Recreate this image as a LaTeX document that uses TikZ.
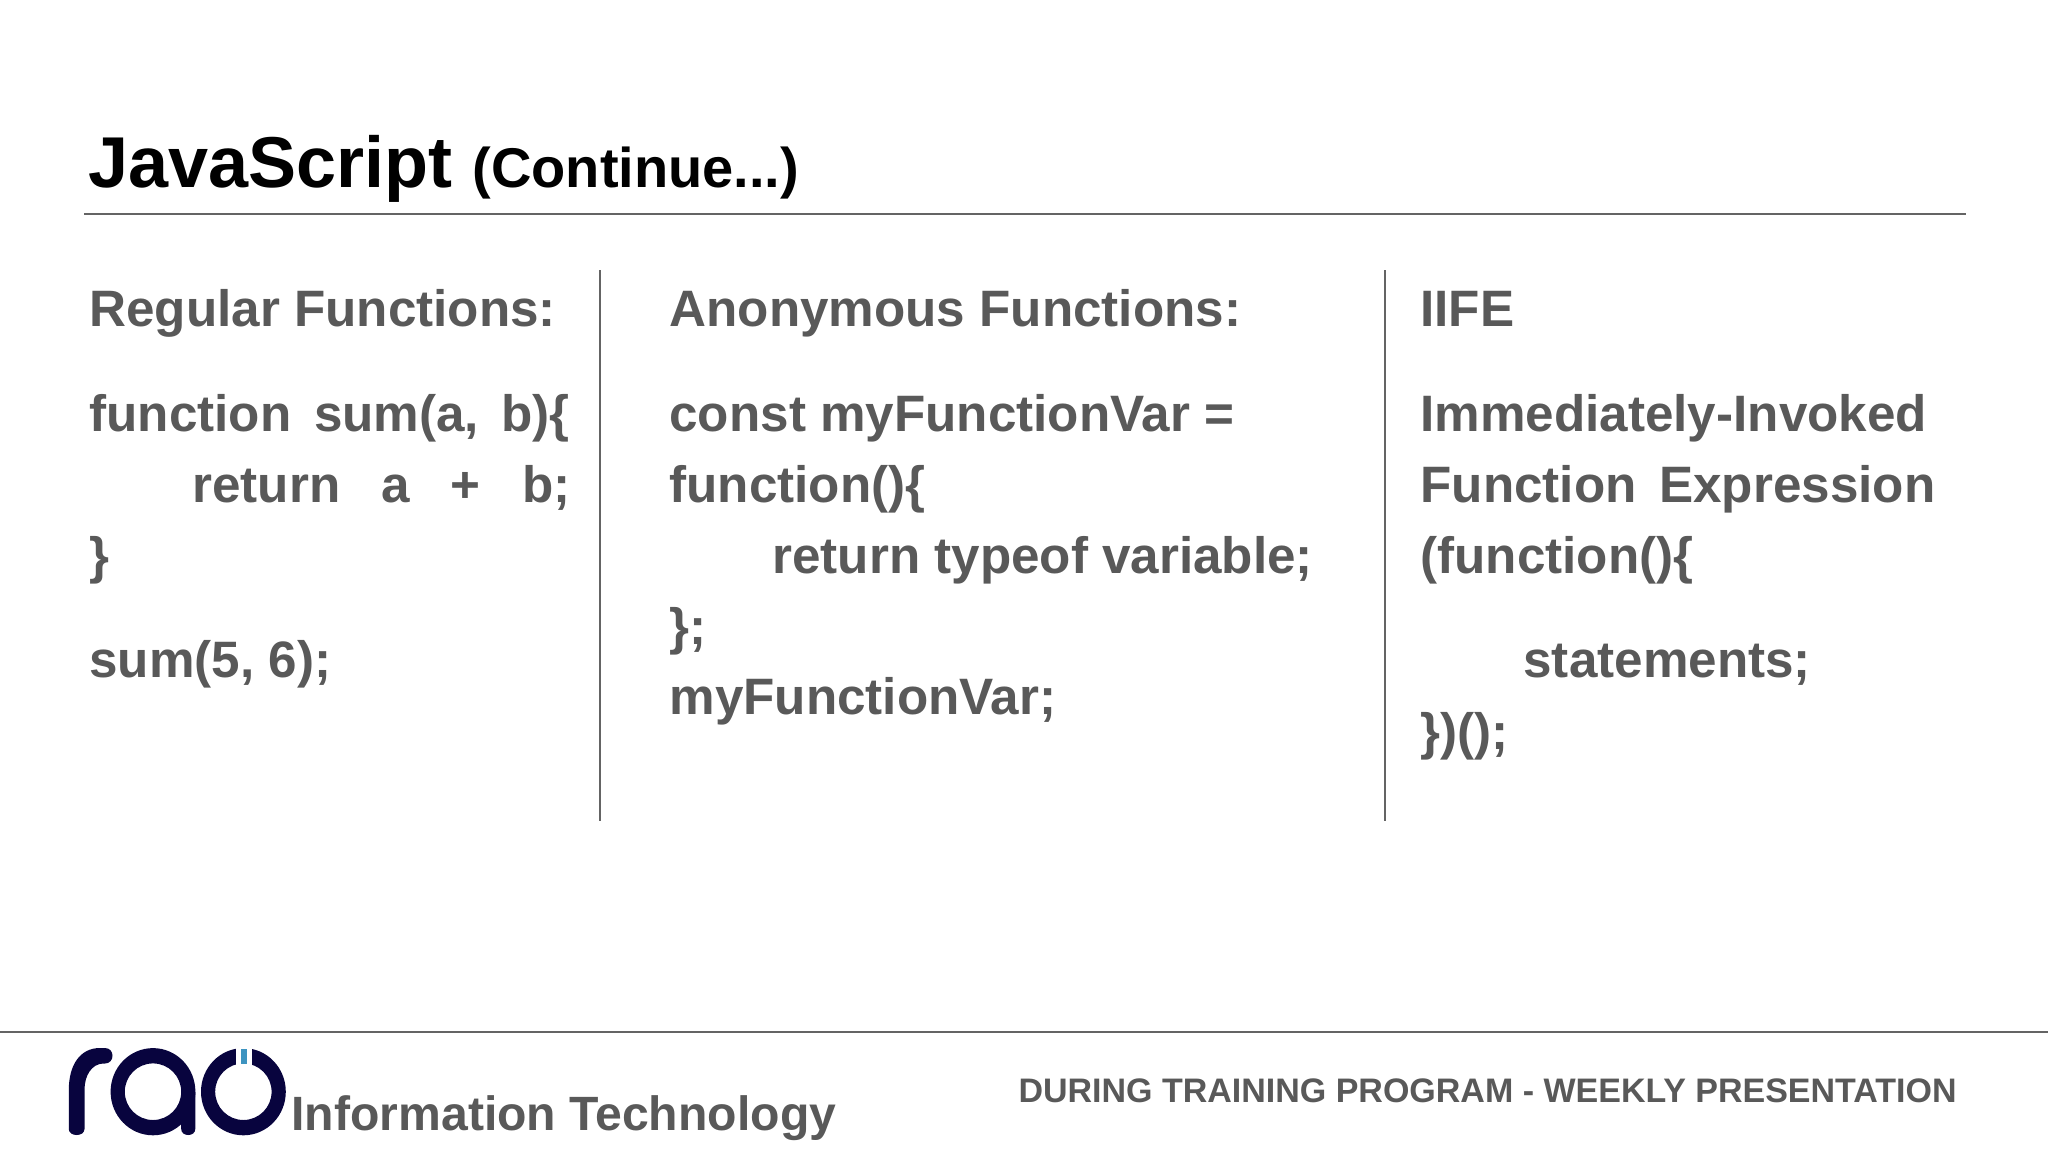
\documentclass[tikz,border=0pt]{standalone}
\usepackage{fontspec}
\setmainfont{Liberation Sans}
\definecolor{slidegrey}{RGB}{89,89,89}
\definecolor{ruleline}{RGB}{100,100,100}
\definecolor{logonavy}{RGB}{8,4,62}
\definecolor{logoblue}{RGB}{61,148,192}
\tikzset{every picture/.style={line width=0.75pt}}
\tikzset{
  bodytext/.style={anchor=base west,inner sep=0pt,text=slidegrey,font=\bfseries\fontsize{38.4}{46}\selectfont},
  headtext/.style={anchor=base west,inner sep=0pt,text=black,font=\bfseries\fontsize{54}{64}\selectfont},
  subtext/.style={anchor=base west,inner sep=0pt,text=black,font=\bfseries\fontsize{42}{50}\selectfont},
  foottext/.style={anchor=base west,inner sep=0pt,text=slidegrey,font=\bfseries\fontsize{36.1}{44}\selectfont},
  tagtext/.style={anchor=base west,inner sep=0pt,text=slidegrey,font=\bfseries\fontsize{25.5}{32}\selectfont},
  ruleh/.style={ruleline,line width=1.5pt},
  rulev/.style={ruleline,line width=1.5pt},
}
\begin{document}
\begin{tikzpicture}[x=0.75pt,y=0.75pt,yscale=-1,xscale=1]
\useasboundingbox (0,0) rectangle (2048,1152);

%Straight Lines
\draw [ruleh] (84,214) -- (1966,214);
\draw [ruleh] (0,1031.5) -- (2048,1031.5);
\draw [rulev] (600,270) -- (600,821);
\draw [rulev] (1385,270) -- (1385,821);

% Text Node
\draw (88,188) node [headtext] (title) {JavaScript};
\draw (472,188) node [subtext] (titlenote) {(Continue...)};

% Text Node
\draw (89,326) node [bodytext] (reghead) {Regular Functions:};
\draw (89,431.7) node [bodytext] (regone) {function\hspace{17pt}sum(a,\hspace{16.5pt}b)\{};
\draw (192,502.7) node [bodytext] (regtwo) {return\hspace{30.5pt}a\hspace{31pt}+\hspace{31pt}b;};
\draw (89,573.7) node [bodytext] (regthree) {\}};
\draw (89,677.7) node [bodytext] (regcall) {sum(5, 6);};

% Text Node
\draw (669,326) node [bodytext] (anonhead) {Anonymous Functions:};
\draw (669,431.7) node [bodytext] (anonone) {const myFunctionVar =};
\draw (669,502.7) node [bodytext] (anontwo) {function()\{};
\draw (772,573.7) node [bodytext] (anonthree) {return typeof variable;};
\draw (669,644.7) node [bodytext] (anonfour) {\};};
\draw (669,714.7) node [bodytext] (anoncall) {myFunctionVar;};

% Text Node
\draw (1420,326) node [bodytext] (iifehead) {IIFE};
\draw (1420,431.7) node [bodytext] (iifeone) {Immediately-Invoked};
\draw (1420,502.7) node [bodytext] (iifetwo) {Function\hspace{17pt}Expression};
\draw (1420,573.7) node [bodytext] (iifethree) {(function()\{};
\draw (1523,677.7) node [bodytext] (iifefour) {statements;};
\draw (1420,749.7) node [bodytext] (iifefive) {\})();};

% Text Node
\draw (291,1130) node [foottext] (company) {Information Technology};
\draw (1018,1102) node [tagtext] (tagline) {DURING TRAINING PROGRAM - WEEKLY PRESENTATION};

%Shape: r
\fill [logonavy] (68.8,1129) -- (68.8,1090) .. controls (68.8,1065) and (80,1048) .. (100,1048) -- (105,1048) .. controls (115,1048) and (115,1063.5) .. (105,1063.5) -- (103,1063.5) .. controls (92,1064) and (84.5,1075) .. (84.5,1090) -- (84.5,1129) .. controls (84.5,1137) and (68.8,1137) .. (68.8,1129) -- cycle;
%Shape: a
\fill [logonavy,even odd rule] (153,1091.7) ellipse [x radius=42.4,y radius=43.6] (153,1091.7) ellipse [x radius=28.2,y radius=28.3];
\fill [logonavy] (181.2,1092) -- (195.3,1092) -- (195.3,1129) .. controls (195.3,1137) and (181.2,1137) .. (181.2,1129) -- cycle;
%Shape: o
\fill [logonavy,even odd rule] (243.4,1091.7) ellipse [x radius=42.4,y radius=43.6] (243.4,1091.7) ellipse [x radius=28.2,y radius=28.3];
\fill [white] (236,1046) rectangle (252,1066);
\fill [logoblue] (241.4,1049) rectangle (246.6,1064);

\end{tikzpicture}
\end{document}
